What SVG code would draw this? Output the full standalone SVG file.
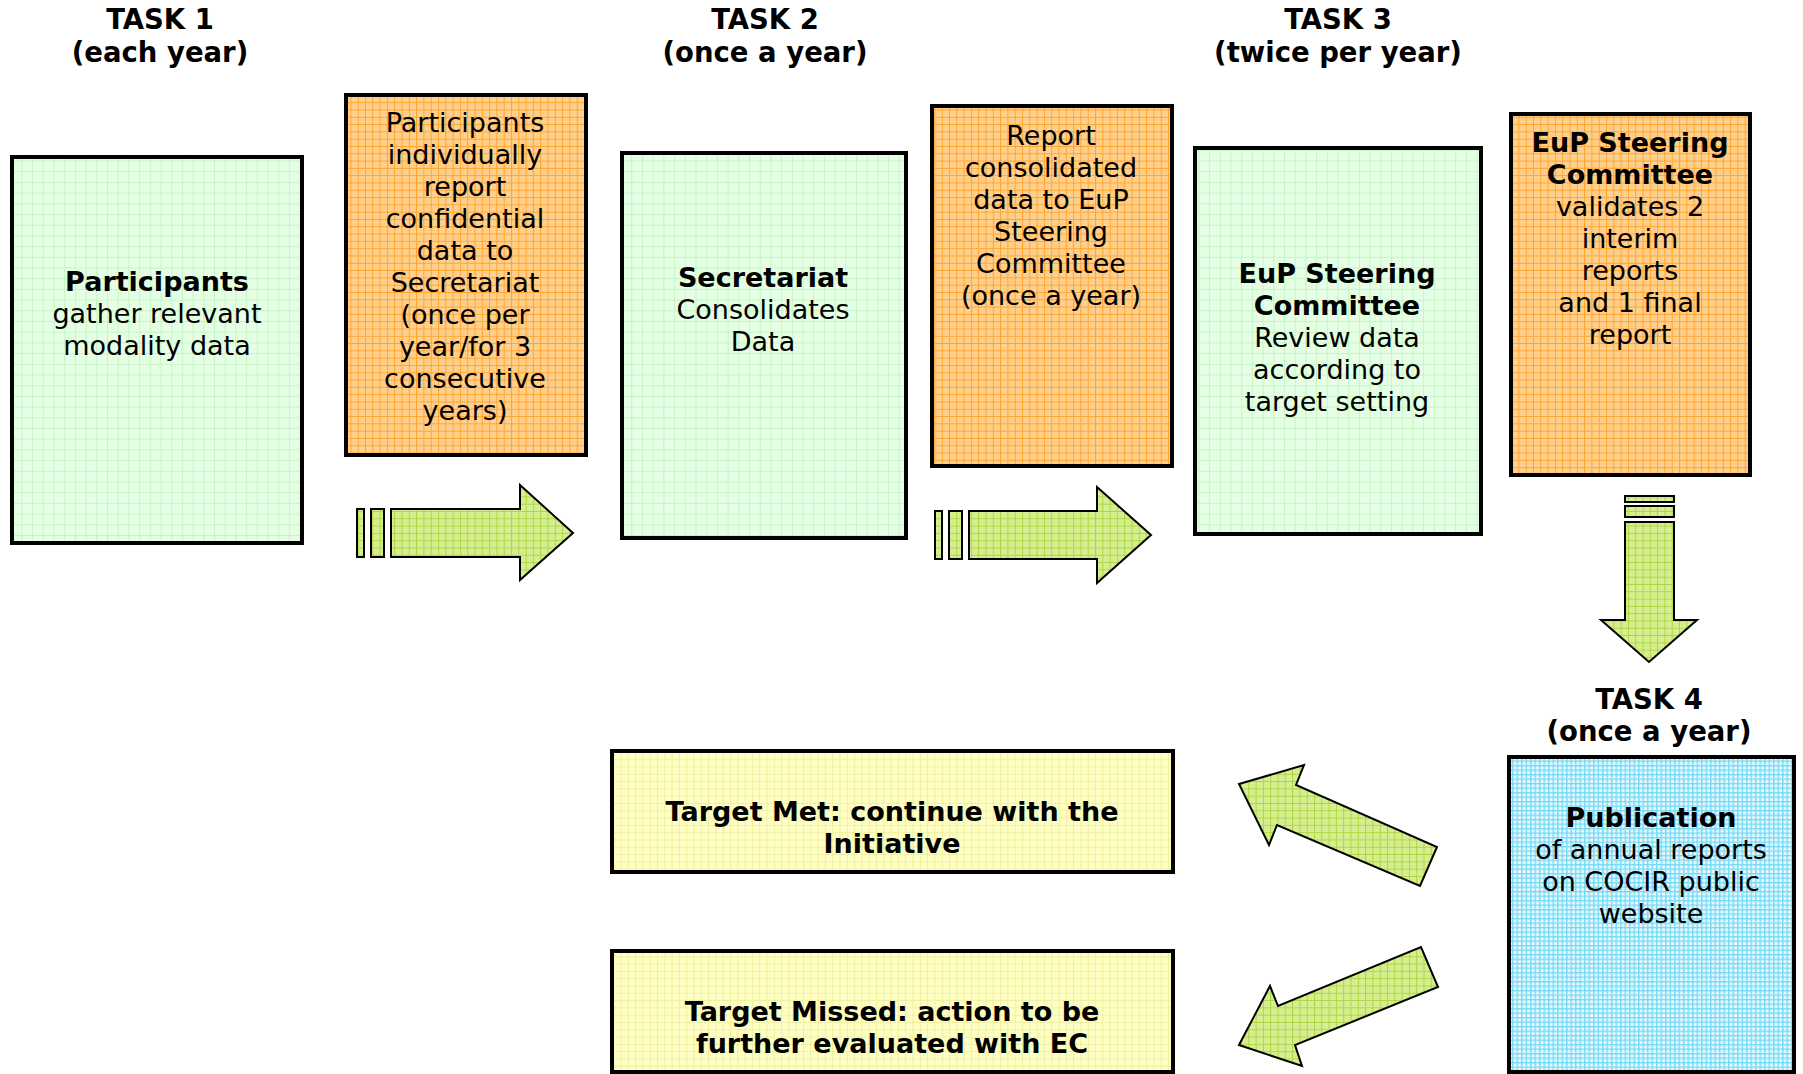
<svg xmlns="http://www.w3.org/2000/svg" width="1803" height="1074" viewBox="0 0 1803 1074">
<defs>
<pattern id="pOrange" patternUnits="userSpaceOnUse" width="7.3" height="7.3">
<rect width="7.3" height="7.3" fill="#ffcf8c"/>
<path d="M0,0.5H7.3M0.5,0V7.3" stroke="#ffa42e" stroke-width="1"/>
</pattern>
<pattern id="pGreen" patternUnits="userSpaceOnUse" width="10.7" height="10.7">
<rect width="10.7" height="10.7" fill="#e5ffe5"/>
<path d="M0,0.5H10.7M0.5,0V10.7" stroke="#c6f4c6" stroke-width="1"/>
</pattern>
<pattern id="pBlue" patternUnits="userSpaceOnUse" width="4.5" height="4.5">
<rect width="4.5" height="4.5" fill="#e6f9ff"/>
<path d="M0,0.75H4.5M0.75,0V4.5" stroke="#78daf6" stroke-width="1.4"/>
</pattern>
<pattern id="pYellow" patternUnits="userSpaceOnUse" width="7.3" height="7.3">
<rect width="7.3" height="7.3" fill="#ffffc4"/>
<path d="M0,0.5H7.3M0.5,0V7.3" stroke="#efefa2" stroke-width="1"/>
</pattern>
<pattern id="pArrow" patternUnits="userSpaceOnUse" width="7.3" height="7.3">
<rect width="7.3" height="7.3" fill="#d6ee92"/>
<path d="M0,0.5H7.3M0.5,0V7.3" stroke="#aed63e" stroke-width="1"/>
</pattern>
</defs>
<style>
text{font-family:"DejaVu Sans","Verdana",sans-serif;font-size:27px;fill:#000;text-anchor:middle}
.b{font-weight:bold}
.h{font-size:27.5px}
.box{stroke:#000;stroke-width:4}
.g{fill:url(#pGreen)}
.o{fill:url(#pOrange)}
.bl{fill:url(#pBlue)}
.y{fill:url(#pYellow)}
.arr{fill:url(#pArrow);stroke:#000;stroke-width:2;stroke-linejoin:miter}
</style>
<rect width="1803" height="1074" fill="#fff"/>

<g id="headers">
<text class="b h" x="160" y="29">TASK 1</text>
<text class="b h" x="160" y="62">(each year)</text>
<text class="b h" x="765" y="29">TASK 2</text>
<text class="b h" x="765" y="62">(once a year)</text>
<text class="b h" x="1338" y="29">TASK 3</text>
<text class="b h" x="1338" y="62">(twice per year)</text>
<text class="b h" x="1649" y="709">TASK 4</text>
<text class="b h" x="1649" y="741">(once a year)</text>
</g>

<g id="participants">
<rect class="box g" x="12" y="157" width="290" height="386"/>
<text class="b" x="157" y="291">Participants</text>
<text x="157" y="323">gather relevant</text>
<text x="157" y="355">modality data</text>
</g>

<g id="report-individually">
<rect class="box o" x="346" y="95" width="240" height="360"/>
<text x="465" y="132">Participants</text>
<text x="465" y="164">individually</text>
<text x="465" y="196">report</text>
<text x="465" y="228">confidential</text>
<text x="465" y="260">data to</text>
<text x="465" y="292">Secretariat</text>
<text x="465" y="324">(once per</text>
<text x="465" y="356">year/for 3</text>
<text x="465" y="388">consecutive</text>
<text x="465" y="420">years)</text>
</g>

<g id="secretariat">
<rect class="box g" x="622" y="153" width="284" height="385"/>
<text class="b" x="763" y="287">Secretariat</text>
<text x="763" y="319">Consolidates</text>
<text x="763" y="351">Data</text>
</g>

<g id="report-consolidated">
<rect class="box o" x="932" y="106" width="240" height="360"/>
<text x="1051" y="145">Report</text>
<text x="1051" y="177">consolidated</text>
<text x="1051" y="209">data to EuP</text>
<text x="1051" y="241">Steering</text>
<text x="1051" y="273">Committee</text>
<text x="1051" y="305">(once a year)</text>
</g>

<g id="steering-review">
<rect class="box g" x="1195" y="148" width="286" height="386"/>
<text class="b" x="1337" y="283">EuP Steering</text>
<text class="b" x="1337" y="315">Committee</text>
<text x="1337" y="347">Review data</text>
<text x="1337" y="379">according to</text>
<text x="1337" y="411">target setting</text>
</g>

<g id="steering-validates">
<rect class="box o" x="1511" y="114" width="239" height="361"/>
<text class="b" x="1630" y="152">EuP Steering</text>
<text class="b" x="1630" y="184">Committee</text>
<text x="1630" y="216">validates 2</text>
<text x="1630" y="248">interim</text>
<text x="1630" y="280">reports</text>
<text x="1630" y="312">and 1 final</text>
<text x="1630" y="344">report</text>
</g>

<g id="publication">
<rect class="box bl" x="1509" y="757" width="285" height="315"/>
<text class="b" x="1651" y="827">Publication</text>
<text x="1651" y="859">of annual reports</text>
<text x="1651" y="891">on COCIR public</text>
<text x="1651" y="923">website</text>
</g>

<g id="target-met">
<rect class="box y" x="612" y="751" width="561" height="121"/>
<text class="b" x="892" y="821">Target Met: continue with the</text>
<text class="b" x="892" y="853">Initiative</text>
</g>

<g id="target-missed">
<rect class="box y" x="612" y="951" width="561" height="121"/>
<text class="b" x="892" y="1021">Target Missed: action to be</text>
<text class="b" x="892" y="1053">further evaluated with EC</text>
</g>

<g id="connectors">
<rect class="arr" x="357" y="509" width="7" height="48"/>
<rect class="arr" x="371" y="509" width="13" height="48"/>
<path class="arr" d="M391,509H520V485L573,533L520,580V557H391Z"/>
<rect class="arr" x="935" y="511" width="7" height="48"/>
<rect class="arr" x="949" y="511" width="13" height="48"/>
<path class="arr" d="M969,511H1097V487L1151,535L1097,583V559H969Z"/>
<rect class="arr" x="1625" y="496" width="49" height="6"/>
<rect class="arr" x="1625" y="506" width="49" height="11"/>
<path class="arr" d="M1625,522H1674V620H1697L1649,662L1601,620H1625Z"/>
<path class="arr" d="M1239,784L1304,765L1296,785L1437,847L1420,886L1277,825L1269,845Z"/>
<path class="arr" d="M1239,1045L1302,1066L1295,1045L1438,987L1421,947L1278,1006L1270,986Z"/>
</g>
</svg>
